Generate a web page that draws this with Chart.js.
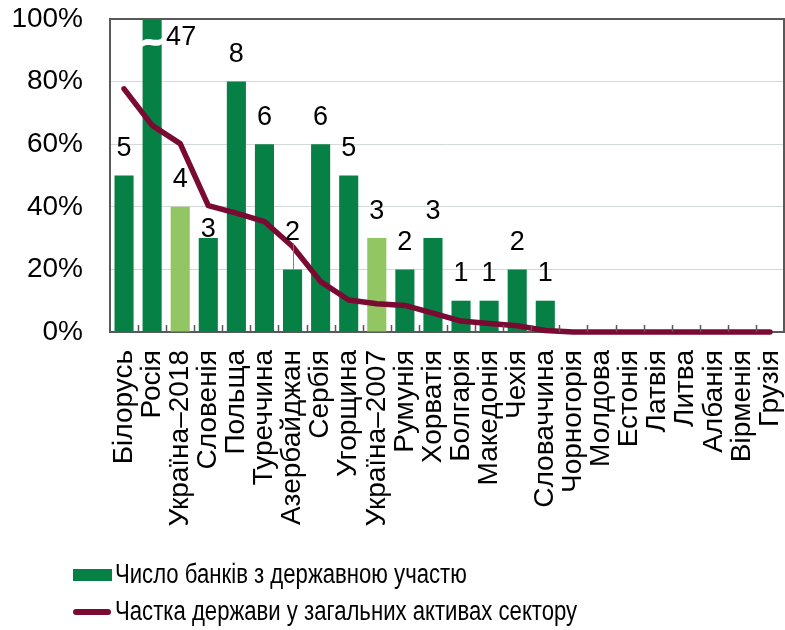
<!DOCTYPE html>
<html>
<head>
<meta charset="utf-8">
<script src="https://cdn.jsdelivr.net/npm/chart.js@4.4.1/dist/chart.umd.min.js"></script>
<style>
  html, body { margin: 0; padding: 0; background: #fff; }
  #wrap { position: relative; width: 785px; height: 630px; }
  #legend { position: absolute; left: 73px; top: 556px; font-family: "Liberation Sans", Arial, sans-serif; font-size: 27px; color: #000; }
  .row { height: 37px; display: flex; align-items: center; white-space: nowrap; }
  .row span.txt { display: inline-block; transform: scaleX(0.82); transform-origin: left center; }
  .box { width: 39px; height: 12px; background: #078045; margin-right: 3px; }
  .ln { width: 38px; height: 6px; border-radius: 3px; background: #7A0A32; margin-right: 4px; }
</style>
</head>
<body>
<div id="wrap">
  <canvas id="chart" width="785" height="630"></canvas>
  <div id="legend">
    <div class="row"><div class="box"></div><span class="txt">Число банків з державною участю</span></div>
    <div class="row"><div class="ln"></div><span class="txt">Частка держави у загальних активах сектору</span></div>
  </div>
</div>
<script>
// ===== DATA =====
const countries = ['Білорусь','Росія','Україна–2018','Словенія','Польща','Туреччина','Азербайджан','Сербія','Угорщина','Україна–2007','Румунія','Хорватія','Болгарія','Македонія','Чехія','Словаччина','Чорногорія','Молдова','Естонія','Латвія','Литва','Албанія','Вірменія','Грузія'];
// number of state banks (shown as labels)
const bankCounts = [5,47,4,3,8,6,2,6,5,3,2,3,1,1,2,1,0,0,0,0,0,0,0,0];
// bar height on the % axis (10% per bank, Russia cut at 100%)
const barValues = [50,100,40,30,80,60,20,60,50,30,20,30,10,10,20,10,0,0,0,0,0,0,0,0];
// state share of total sector assets, %
const stateShare = [77.7,66,60.2,40.4,38,35.3,27.3,16.1,10.2,9,8.5,6,3.5,2.7,2,0.5,0,0,0,0,0,0,0,0];
const yTicks = [0,20,40,60,80,100];

const darkGreen = '#078045';
const lightGreen = '#92C662';
const maroon = '#7A0A32';
const frameColor = '#595959';
const FONT = '"Liberation Sans", Arial, sans-serif';

const barColors = countries.map(c => c.startsWith('Україна') ? lightGreen : darkGreen);

// ===== PLUGINS =====
const framePlugin = {
  id: 'frame',
  afterDatasetsDraw(chart) {
    const {ctx, chartArea} = chart;
    const x = chart.scales.x;
    ctx.save();
    ctx.strokeStyle = frameColor;
    ctx.lineWidth = 2;
    ctx.beginPath();
    ctx.moveTo(chartArea.left, chartArea.top);
    ctx.lineTo(chartArea.right, chartArea.top);
    ctx.lineTo(chartArea.right, chartArea.bottom);
    ctx.stroke();
    // small inward ticks between categories
    const step = (x.getPixelForValue(1) - x.getPixelForValue(0));
    ctx.lineWidth = 1.5;
    ctx.beginPath();
    for (let i = 1; i < countries.length; i++) {
      const px = Math.round(x.getPixelForValue(i) - step / 2) + 0.5;
      ctx.moveTo(px, chartArea.bottom);
      ctx.lineTo(px, chartArea.bottom - 7);
    }
    ctx.stroke();
    ctx.restore();
  }
};

const barLabels = {
  id: 'barLabels',
  afterDatasetsDraw(chart) {
    const {ctx} = chart;
    const meta = chart.getDatasetMeta(0);
    const y = chart.scales.y;
    ctx.save();
    ctx.font = '27px ' + FONT;
    ctx.textAlign = 'center';
    ctx.textBaseline = 'middle';
    // break mark on the Russia bar
    const rus = meta.data[1];
    const yb = y.getPixelForValue(92.5);
    const hw = rus.width / 2 + 1;
    ctx.fillStyle = '#fff';
    ctx.beginPath();
    ctx.moveTo(rus.x - hw, yb - 1);
    ctx.bezierCurveTo(rus.x - 3, yb - 7, rus.x + 3, yb + 1, rus.x + hw, yb - 5);
    ctx.lineTo(rus.x + hw, yb + 1);
    ctx.bezierCurveTo(rus.x + 3, yb + 7, rus.x - 3, yb - 1, rus.x - hw, yb + 5);
    ctx.closePath();
    ctx.fill();
    ctx.fillStyle = '#000';
    meta.data.forEach((bar, i) => {
      const n = bankCounts[i];
      if (!n) return;
      if (i === 1) {
        ctx.fillText(String(n), bar.x + 29, y.getPixelForValue(94));
        return;
      }
      let off = 27;
      if (i === 3) off = 9;
      if (i === 6) off = 37;
      ctx.fillText(String(n), bar.x, bar.y - off);
      if (i === 6) {
        ctx.strokeStyle = '#808080';
        ctx.lineWidth = 1;
        ctx.beginPath();
        ctx.moveTo(Math.round(bar.x) + 0.5, bar.y - off + 11);
        ctx.lineTo(Math.round(bar.x) + 0.5, bar.y);
        ctx.stroke();
      }
    });
    ctx.restore();
  }
};

// ===== CHART =====
new Chart(document.getElementById('chart'), {
  data: {
    labels: countries,
    datasets: [
      {
        type: 'bar',
        label: 'Число банків з державною участю',
        data: barValues,
        backgroundColor: barColors,
        barPercentage: 0.68,
        categoryPercentage: 1,
        order: 2
      },
      {
        type: 'line',
        label: 'Частка держави у загальних активах сектору',
        data: stateShare,
        borderColor: maroon,
        borderWidth: 5.5,
        pointRadius: 0,
        tension: 0,
        borderCapStyle: 'round',
        borderJoinStyle: 'round',
        clip: false,
        order: 1
      }
    ]
  },
  options: {
    responsive: false,
    animation: false,
    devicePixelRatio: 1,
    layout: { padding: { top: 19, right: 1, left: 0, bottom: 98 } },
    plugins: { legend: { display: false }, tooltip: { enabled: false } },
    scales: {
      x: {
        grid: { display: false, drawTicks: false },
        border: { display: true, color: frameColor, width: 2 },
        ticks: {
          autoSkip: false, maxRotation: 90, minRotation: 90, padding: 18,
          color: '#000', font: { family: FONT, size: 28 }
        },
        afterFit: s => { s.height = 200; s.paddingLeft = 0; s.paddingRight = 0; }
      },
      y: {
        min: 0, max: 100,
        afterBuildTicks: s => { s.ticks = yTicks.map(v => ({ value: v })); },
        grid: {
          drawTicks: false,
          color: c => c.tick && c.tick.value === 100 ? frameColor : '#D3D8D8',
          lineWidth: c => c.tick && c.tick.value === 100 ? 2 : 1
        },
        border: { display: true, color: frameColor, width: 2 },
        ticks: {
          padding: 27, color: '#000', font: { family: FONT, size: 28 },
          callback: v => v + '%'
        },
        afterFit: s => { s.width = 110; s.paddingTop = 0; s.paddingBottom = 0; }
      }
    }
  },
  plugins: [framePlugin, barLabels]
});
</script>
</body>
</html>
